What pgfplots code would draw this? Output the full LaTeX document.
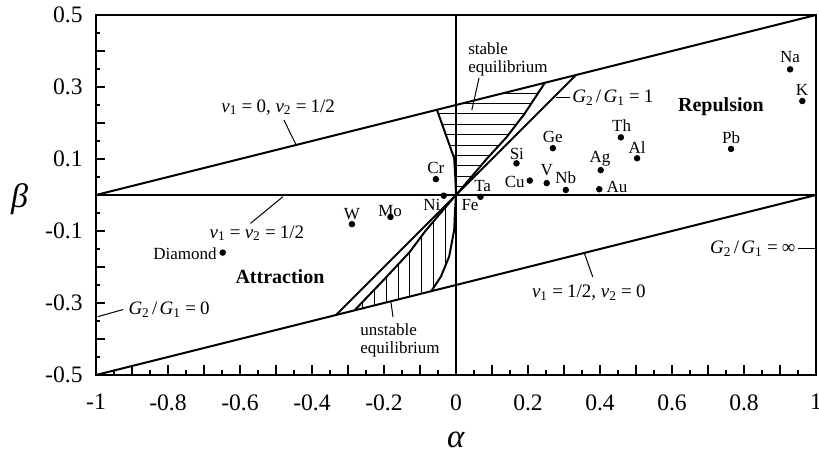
\documentclass[border=0pt]{standalone}
\usepackage{fontspec}
\setmainfont{Liberation Serif}
\usepackage{pgfplots}
\pgfplotsset{compat=1.18}

\newcommand{\sub}[1]{\textsubscript{#1}}
\newcommand{\eq}{\hspace{0.22em}=\hspace{0.22em}}
\newcommand{\sla}{\hspace{0.12em}/\hspace{0.12em}}
\newcommand{\vv}[1]{\textit{v}\sub{#1}}
\newcommand{\GG}[1]{\textit{G}\sub{#1}}

\tikzset{
  lbl/.style={font=\fontsize{8.5}{9}\selectfont, inner sep=0pt},
  ann/.style={font=\fontsize{9.5}{10}\selectfont, inner sep=0pt},
}

\begin{document}
\begin{tikzpicture}
\begin{axis}[
  name=ax,
  scale only axis, width=360pt, height=180pt,
  xmin=-1, xmax=1, ymin=-0.5, ymax=0.5,
  clip=false,
  axis line style={line width=1pt},
  tick align=inside, tick pos=left,
  xtick={-1,-0.9,-0.8,-0.7,-0.6,-0.5,-0.4,-0.3,-0.2,-0.1,0,0.1,0.2,0.3,0.4,0.5,0.6,0.7,0.8,0.9,1},
  xticklabels={{-1},{},{-0.8},{},{-0.6},{},{-0.4},{},{-0.2},{},{0},{},{0.2},{},{0.4},{},{0.6},{},{0.8},{},{1}},
  ytick={-0.5,-0.4,-0.3,-0.2,-0.1,0,0.1,0.2,0.3,0.4,0.5},
  yticklabels={{-0.5},{},{-0.3},{},{-0.1},{},{0.1},{},{0.3},{},{0.5}},
  minor x tick num=1, minor y tick num=1,
  major tick length=4.75pt, minor tick length=2.25pt,
  every tick/.style={black, line width=0.8pt},
  ticklabel style={font=\fontsize{11.8}{13}\selectfont},
  xticklabel style={anchor=north, inner sep=0pt, yshift=-9.5pt},
  yticklabel style={anchor=east, inner sep=0pt, xshift=-6.5pt},
  every axis plot/.append style={black},
]
% boundaries of the parallelogram and the axes through the origin
\addplot[line width=1pt] coordinates {(-1,0) (1,0.5)};
\addplot[line width=1pt] coordinates {(-1,-0.5) (1,0)};
\addplot[line width=1pt] coordinates {(-1,0) (1,0)};
\addplot[line width=1pt] coordinates {(0,-0.5) (0,0.5)};
% G2/G1 = 1
\addplot[line width=1pt] coordinates {(-0.3333,-0.3333) (0.3333,0.3333)};
% equilibrium boundaries
\addplot[line width=1pt] coordinates {(0,0) (0.03,0.035) (0.085,0.1) (0.14,0.16) (0.19,0.225) (0.247,0.31175)};
\addplot[line width=1pt] coordinates {(0,0) (-0.03,-0.035) (-0.085,-0.1) (-0.13,-0.16) (-0.2,-0.235) (-0.282,-0.3205)};
\addplot[line width=1pt] coordinates {(0,0) (-0.002,0.05) (-0.005,0.102) (-0.053,0.23675)};
\addplot[line width=1pt] coordinates {(0,0) (-0.003,-0.05) (-0.005,-0.097) (-0.019,-0.171) (-0.042,-0.227) (-0.069,-0.26725)};

% hatching: stable region (horizontal)
\addplot[line width=0.5pt, unbounded coords=jump] coordinates {
 (0.132,0.283) (0.228,0.283) (nan,nan)
 (0.016,0.254) (0.209,0.254) (nan,nan)
 (-0.049,0.225) (0.190,0.225) (nan,nan)
 (-0.039,0.196) (0.168,0.196) (nan,nan)
 (-0.028,0.167) (0.145,0.167) (nan,nan)
 (-0.018,0.138) (0.120,0.138) (nan,nan)
 (-0.0075,0.109) (0.093,0.109) (nan,nan)
 (-0.004,0.081) (0.069,0.081) (nan,nan)
 (-0.0025,0.052) (0.044,0.052) (nan,nan)
 (-0.001,0.023) (0.020,0.023)
};
% hatching: unstable region (vertical)
\addplot[line width=0.5pt, unbounded coords=jump] coordinates {
 (-0.030,-0.198) (-0.030,-0.035) (nan,nan)
 (-0.063,-0.257) (-0.063,-0.074) (nan,nan)
 (-0.095,-0.274) (-0.095,-0.113) (nan,nan)
 (-0.128,-0.282) (-0.128,-0.157) (nan,nan)
 (-0.161,-0.290) (-0.161,-0.193) (nan,nan)
 (-0.194,-0.2985) (-0.194,-0.229) (nan,nan)
 (-0.226,-0.3065) (-0.226,-0.262) (nan,nan)
 (-0.259,-0.315) (-0.259,-0.296)
};

% leader lines
\addplot[line width=0.5pt] coordinates {(-0.478,0.208) (-0.444,0.139)};
\addplot[line width=0.5pt] coordinates {(-0.571,-0.079) (-0.481,-0.005)};
\addplot[line width=0.5pt] coordinates {(-0.995,-0.338) (-0.924,-0.318)};
\addplot[line width=0.5pt] coordinates {(0.278,0.27) (0.318,0.27)};
\addplot[line width=0.5pt] coordinates {(0.95,-0.15) (1.0,-0.15)};
\addplot[line width=0.5pt] coordinates {(0.356,-0.160) (0.38,-0.228)};
\addplot[line width=0.5pt] coordinates {(0.064,0.325) (0.044,0.236)};
\addplot[line width=0.5pt] coordinates {(-0.181,-0.295) (-0.175,-0.339)};

% materials
\addplot[only marks, mark=*, mark size=1.4pt] coordinates {
 (0.928,0.349) (0.962,0.261) (0.764,0.128) (0.458,0.160) (0.503,0.102)
 (0.269,0.130) (0.168,0.088) (0.205,0.040) (0.252,0.033) (0.305,0.014)
 (0.402,0.069) (0.398,0.016) (-0.056,0.044) (-0.034,-0.002) (0.068,-0.005)
 (-0.182,-0.061) (-0.289,-0.081) (-0.648,-0.160)
};
\node[lbl] at (axis cs:0.928,0.382) {Na};
\node[lbl] at (axis cs:0.961,0.292) {K};
\node[lbl] at (axis cs:0.764,0.160) {Pb};
\node[lbl] at (axis cs:0.460,0.194) {Th};
\node[lbl] at (axis cs:0.503,0.132) {Al};
\node[lbl] at (axis cs:0.269,0.161) {Ge};
\node[lbl] at (axis cs:0.169,0.115) {Si};
\node[lbl] at (axis cs:0.163,0.037) {Cu};
\node[lbl] at (axis cs:0.252,0.070) {V};
\node[lbl] at (axis cs:0.305,0.049) {Nb};
\node[lbl] at (axis cs:0.400,0.100) {Ag};
\node[lbl] at (axis cs:0.447,0.022) {Au};
\node[lbl] at (axis cs:-0.056,0.076) {Cr};
\node[lbl] at (axis cs:-0.067,-0.028) {Ni};
\node[lbl] at (axis cs:0.074,0.024) {Ta};
\node[lbl] at (axis cs:0.039,-0.029) {Fe};
\node[lbl] at (axis cs:-0.183,-0.044) {Mo};
\node[lbl] at (axis cs:-0.289,-0.053) {W};
\node[lbl, anchor=east] at (axis cs:-0.664,-0.164) {Diamond};

% region names
\node[font=\fontsize{10}{11}\selectfont\bfseries] at (axis cs:-0.489,-0.228) {Attraction};
\node[font=\fontsize{10}{11}\selectfont\bfseries] at (axis cs:0.736,0.244) {Repulsion};
\node[lbl, anchor=north west, align=left, font=\fontsize{8.5}{8.9}\selectfont] at (axis cs:0.033,0.423) {stable\\equilibrium};
\node[lbl, anchor=north west, align=left, font=\fontsize{8.5}{8.9}\selectfont] at (axis cs:-0.267,-0.356) {unstable\\equilibrium};

% line annotations
\node[ann] at (axis cs:-0.494,0.244) {\vv{1}\eq 0, \vv{2}\eq 1/2};
\node[ann] at (axis cs:-0.553,-0.106) {\vv{1}\eq\vv{2}\eq 1/2};
\node[ann] at (axis cs:-0.797,-0.319) {\GG{2}\sla\GG{1}\eq 0};
\node[ann, anchor=west] at (axis cs:0.322,0.27) {\GG{2}\sla\GG{1}\eq 1};
\node[ann, anchor=east] at (axis cs:0.944,-0.15) {\GG{2}\sla\GG{1}\eq ∞};
\node[ann] at (axis cs:0.369,-0.272) {\vv{1}\eq 1/2, \vv{2}\eq 0};

% axis titles
\node at (rel axis cs:-0.106,0.488) {\fontsize{17}{17}\selectfont\textit{β}};
\node at (rel axis cs:0.5,-0.1806) {\fontsize{16.5}{17}\selectfont\textit{α}};
\end{axis}
\pgfresetboundingbox
\path[use as bounding box] ([shift={(-48pt,-42.5pt)}]ax.south west) rectangle ([shift={(1.5pt,7.5pt)}]ax.north east);
\end{tikzpicture}
\end{document}
